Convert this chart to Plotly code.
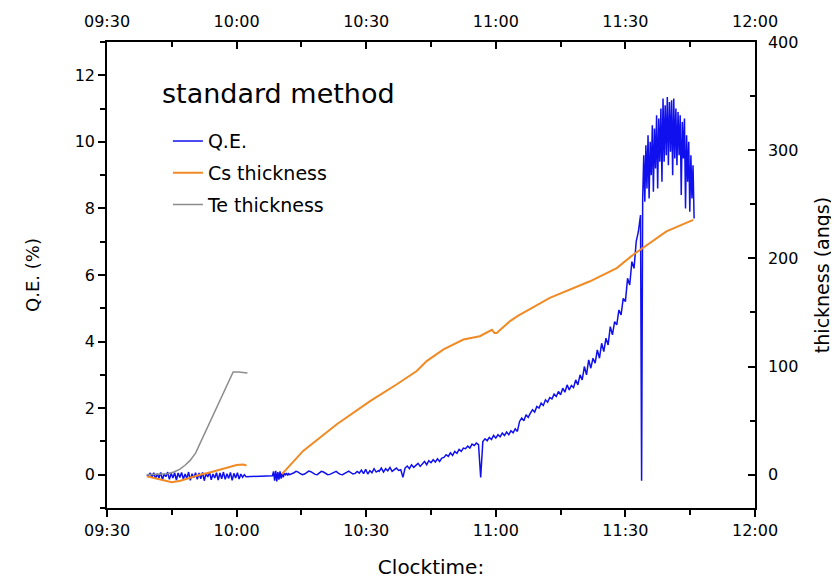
import numpy as np
import pandas as pd
import plotly.graph_objects as go

# times are minutes after 09:30
base = pd.Timestamp("2000-01-01 09:30")

# Q.E. (%) - noisy trace in a few sampled pieces
qe_a_span = (9.2, 32.2)
qe_a = [0.0, -0.02, 0.05, -0.08, 0.06, -0.12, 0.03, -0.1, 0.07, -0.15, 0.02, -0.06,
        0.08, -0.14, 0.04, -0.1, 0.06, -0.16, 0.05, -0.08, 0.07, -0.13, 0.02, -0.11,
        0.08, -0.17, 0.03, -0.09, 0.06, -0.14, 0.05, -0.12, 0.07, -0.18, 0.04, -0.07,
        0.08, -0.15, 0.02, -0.1, 0.06, -0.16, 0.05, -0.12, 0.08, -0.14, 0.03, -0.11,
        0.07, -0.17, 0.04, -0.1, 0.06, -0.13, 0.02, -0.08, 0.0, -0.06]
qe_b_span = (38.3, 42.3)
qe_b = [-0.03, 0.1, -0.18, 0.12, -0.2, 0.08, -0.15, 0.1, -0.12, 0.05, -0.08, 0.04,
        0.0, 0.05, -0.02, 0.03, 0.0]
qe_c_span = (42.8, 62.8)
qe_c = [0.02, 0.06, 0.1, 0.08, 0.03, 0.0, 0.02, 0.07, 0.11, 0.09, 0.04, 0.01, 0.0,
        0.05, 0.1, 0.08, 0.03, 0.0, 0.01, 0.04, 0.09, 0.1, 0.05, 0.01, 0.0, 0.03,
        0.08, 0.11, 0.06, 0.02, 0.04, 0.1, 0.05, 0.14, 0.03, 0.16, 0.02, 0.12, 0.06,
        0.18, 0.08, 0.12]
qe_d_span = (63.0, 123.5)
qe_d = [0.1, 0.2, 0.08, 0.18, 0.12, 0.22, 0.1, 0.16, 0.2, 0.13,
        0.15, -0.08, 0.2, 0.26, 0.18, 0.3, 0.22, 0.28, 0.34, 0.25,
        0.32, 0.4, 0.3, 0.42, 0.36, 0.45, 0.38, 0.48, 0.4, 0.5,
        0.52, 0.6, 0.55, 0.66, 0.58, 0.7, 0.64, 0.76, 0.7, 0.8,
        0.78, 0.86, 0.8, 0.92, 0.88, 0.95, 0.9, -0.08, 1.0, 1.08,
        1.02, 1.12, 1.06, 1.18, 1.1, 1.2, 1.14, 1.25, 1.18, 1.28,
        1.2, 1.32, 1.26, 1.38, 1.3, 1.6, 1.7, 1.62, 1.8, 1.72,
        1.85, 1.95, 1.88, 2.05, 2.0, 2.15, 2.08, 2.25, 2.18, 2.32,
        2.28, 2.42, 2.35, 2.5, 2.4, 2.6, 2.48, 2.7, 2.55, 2.68,
        2.62, 2.85, 2.7, 3.0, 2.85, 3.25, 3.0, 3.45, 3.2, 3.5,
        3.35, 3.75, 3.5, 3.95, 3.7, 4.1, 3.9, 4.45, 4.2, 4.6,
        4.5, 4.95, 4.8, 5.3, 5.2, 5.9, 5.7, 6.4, 6.2, 7.0,
        7.3, 7.8]
qe_dip_min = [123.75]
qe_dip = [-0.18]
qe_e_span = (124.0, 135.9)
qe_e = [8.3, 9.6, 8.2, 9.9, 8.6, 10.2, 8.3, 10.0, 9.0, 10.5, 8.5, 10.4, 9.2, 10.8,
        8.6, 10.7, 9.4, 11.0, 8.8, 11.3, 9.4, 11.1, 9.6, 11.35, 9.3, 11.2, 9.7,
        11.25, 9.0, 11.3, 9.5, 11.0, 9.3, 10.9, 9.6, 10.8, 8.4, 10.6, 9.5, 10.7,
        8.0, 10.2, 8.8, 10.0, 7.9, 9.6, 8.3, 9.3, 7.7]

# Cs thickness (angs), two runs
cs1_min = [9.2, 11, 13, 15, 17, 19.2, 21.5, 23.8, 26, 28, 30, 31.5, 32.3]
cs1 = [-1.5, -3, -5, -7, -5.5, -2.5, 0, 2, 4.5, 7, 9, 9.5, 8.5]
cs2_min = [40.5, 45.4, 53.2, 60.9, 67.1, 71.7, 74, 77.9, 82.5, 86.3, 89.1, 89.7,
           90.2, 93.3, 95.2, 102.5, 111.8, 118, 121.8, 125.7, 129.5, 135.7]
cs2 = [0.6, 22, 46.7, 68, 83.6, 95.8, 105, 115.8, 125, 128, 134, 131, 131, 142,
       147, 163.4, 178.8, 191, 203.4, 214, 225, 235.6]

# Te thickness (angs)
te_min = [9.2, 12, 14, 15.5, 16.8, 18, 19.2, 20.5, 22, 24, 26, 28, 29.2, 30.5, 32.5]
te = [0, 0.3, 1, 2.5, 5, 8.5, 13, 20, 33, 51, 68, 85, 95, 95, 94]


def span_times(span, vals):
    return list(np.linspace(span[0], span[1], len(vals)))


def to_time(mins):
    return [base + pd.Timedelta(minutes=float(m)) for m in mins]


qe_min = (span_times(qe_a_span, qe_a) + span_times(qe_b_span, qe_b)
          + span_times(qe_c_span, qe_c) + span_times(qe_d_span, qe_d)
          + qe_dip_min + span_times(qe_e_span, qe_e))
qe = qe_a + qe_b + qe_c + qe_d + qe_dip + qe_e

cs_x = to_time(cs1_min) + [None] + to_time(cs2_min)
cs_y = cs1 + [None] + cs2

FONT = "DejaVu Sans, Arial, sans-serif"
x_range = [base, base + pd.Timedelta(minutes=150)]

fig = go.Figure()
fig.add_trace(go.Scatter(x=to_time(qe_min), y=qe, mode="lines", name="Q.E.",
                         line=dict(color="#1010ee", width=1.5), legendgroup="a"))
fig.add_trace(go.Scatter(x=cs_x, y=cs_y, mode="lines", name="Cs thickness",
                         line=dict(color="#f08a24", width=2), xaxis="x2", yaxis="y2",
                         legendgroup="b"))
fig.add_trace(go.Scatter(x=to_time(te_min), y=te, mode="lines", name="Te thickness",
                         line=dict(color="#8c8c8c", width=1.5), xaxis="x2", yaxis="y2",
                         legendgroup="c"))

axis_common = dict(showline=True, linecolor="black", linewidth=1.5, showgrid=False,
                   zeroline=False, ticklen=7, tickwidth=1.5, tickcolor="black",
                   automargin=False,
                   tickfont=dict(family=FONT, size=16, color="black"))

# page body adds an 8px offset, so the figure is a bit smaller than the window
fig.update_layout(
    width=831, height=571,
    margin=dict(l=99, r=84, t=34, b=71),
    paper_bgcolor="white", plot_bgcolor="white",
    xaxis=dict(type="date", range=x_range, tickformat="%H:%M",
               tick0=base, dtick=30 * 60000, ticks="outside",
               minor=dict(dtick=15 * 60000, ticks="outside", ticklen=5,
                          tickcolor="black", tickwidth=1.5),
               title=dict(text="Clocktime:", font=dict(family=FONT, size=20, color="black"),
                          standoff=23),
               **axis_common),
    xaxis2=dict(type="date", range=x_range, matches="x", overlaying="x", side="top",
                tickformat="%H:%M", tick0=base, dtick=30 * 60000, ticks="inside",
                ticklabelstandoff=7,
                minor=dict(dtick=15 * 60000, ticks="inside", ticklen=5,
                           tickcolor="black", tickwidth=1.5),
                **axis_common),
    yaxis=dict(range=[-1, 13], tick0=0, dtick=2, ticks="outside",
               minor=dict(dtick=1, ticks="outside", ticklen=5,
                          tickcolor="black", tickwidth=1.5),
               title=dict(text="Q.E. (%)", font=dict(family=FONT, size=18, color="black"),
                          standoff=30),
               **axis_common),
    yaxis2=dict(range=[-400 / 13, 400], tick0=0, dtick=100, ticks="inside",
                ticklabelstandoff=8,
                overlaying="y", side="right",
                minor=dict(dtick=50, ticks="inside", ticklen=5,
                           tickcolor="black", tickwidth=1.5),
                title=dict(text="thickness (angs)", font=dict(family=FONT, size=19, color="black"),
                           standoff=18),
                **axis_common),
    legend=dict(x=0.094, y=0.828, xanchor="left", yanchor="top", bgcolor="rgba(0,0,0,0)",
                font=dict(family=FONT, size=19, color="black"), tracegroupgap=4,
                itemwidth=30),
    annotations=[dict(text="standard method", xref="paper", yref="paper",
                      x=(160 - 107) / 648, y=(508 - 93) / 466, xanchor="left",
                      yanchor="middle", showarrow=False,
                      font=dict(family=FONT, size=27, color="black"))],
)

fig.write_html("out.html")
